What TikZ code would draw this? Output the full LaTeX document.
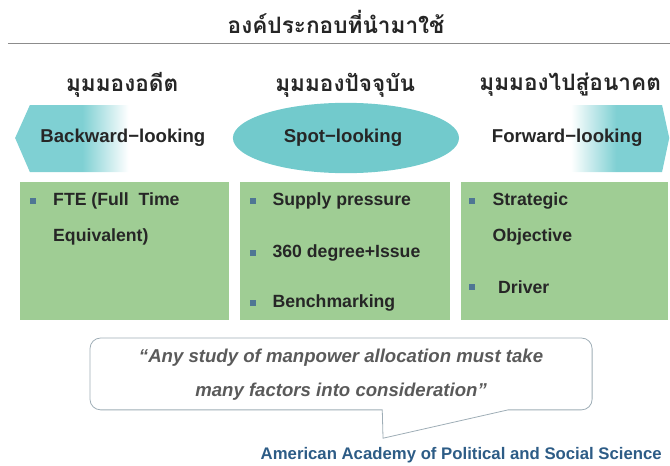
\documentclass[tikz,border=0pt]{standalone}
\usepackage{fontspec}
\setmainfont{Liberation Sans}
\newfontfamily\thaifont[Script=Thai]{Loma}
\usepackage{xcolor}
\usepackage{tikz}
\definecolor{BLTeal}{HTML}{7FD0D3}
\definecolor{BLSpot}{HTML}{72CACC}
\definecolor{BLGreen}{HTML}{9FCD94}
\definecolor{BLBullet}{HTML}{4F7694}
\definecolor{BLText}{HTML}{262626}
\definecolor{BLQuote}{HTML}{5A5A5A}
\definecolor{BLNavy}{HTML}{2D5C86}
\definecolor{BLFrame}{HTML}{9EADB6}
\definecolor{BLRule}{HTML}{8C8C8C}
\pgfdeclarehorizontalshading{BLpastfade}{100bp}{color(0bp)=(BLTeal); color(41bp)=(BLTeal); color(52bp)=(white); color(100bp)=(white)}
\pgfdeclarehorizontalshading{BLfuturefade}{100bp}{color(0bp)=(white); color(49bp)=(white); color(61bp)=(BLTeal); color(100bp)=(BLTeal)}

\begin{document}
\begin{tikzpicture}[x=1cm,y=1cm,
  viewlabel/.style={font=\fontsize{14}{16}\selectfont\bfseries,text=BLText},
  item/.style={anchor=west,font=\fontsize{13.3}{15}\selectfont\bfseries,text=BLText,inner sep=0pt},
  bulletsq/.style={fill=BLBullet,minimum size=0.16cm,inner sep=0pt},
  viewhead/.style={font=\thaifont\bfseries\fontsize{17}{19}\selectfont,text=BLText}]
\path[use as bounding box] (0,0) rectangle (17.72,12.30);
\node[font=\thaifont\bfseries\fontsize{17}{19}\selectfont,text=BLText] (title) at (8.89,11.72) {องค์ประกอบที่นำมาใช้};
\draw[BLRule,line width=0.6pt] (0.21,11.16) -- (17.72,11.16);
\node[viewhead] (pasthead) at (3.23,10.05) {มุมมองอดีต};
\node[viewhead] (nowhead) at (9.13,10.05) {มุมมองปัจจุบัน};
\node[viewhead] (futurehead) at (15.08,10.05) {มุมมองไปสู่อนาคต};
\shade[shading=BLpastfade] (0.40,8.65) -- (0.79,9.52) -- (5.95,9.52) -- (5.95,7.75) -- (0.79,7.75) -- cycle;
\fill[BLSpot] (9.15,8.65) ellipse[x radius=2.99,y radius=0.93];
\shade[shading=BLfuturefade] (12.70,9.52) -- (17.51,9.52) -- (17.70,8.65) -- (17.51,7.75) -- (12.70,7.75) -- cycle;
\node[viewlabel] (past) at (3.25,8.66) {Backward−looking};
\node[viewlabel] (spot) at (9.07,8.66) {Spot−looking};
\node[viewlabel] (future) at (15.00,8.66) {Forward−looking};
\fill[BLGreen] (0.53,3.84) rectangle (6.06,7.49);
\fill[BLGreen] (6.35,3.84) rectangle (11.90,7.49);
\fill[BLGreen] (12.20,3.84) rectangle (17.67,7.49);
\node[bulletsq] (pb1) at (0.87,6.98) {};
\node[item] (fte) at (1.40,6.98) {FTE (Full\ \ Time};
\node[item] (fte2) at (1.40,6.03) {Equivalent)};
\node[bulletsq] (nb1) at (6.69,6.98) {};
\node[item] (supply) at (7.20,6.98) {Supply pressure};
\node[bulletsq] (nb2) at (6.69,5.61) {};
\node[item] (degree) at (7.20,5.61) {360 degree+Issue};
\node[bulletsq] (nb3) at (6.69,4.29) {};
\node[item] (bench) at (7.20,4.29) {Benchmarking};
\node[bulletsq] (fb1) at (12.49,6.98) {};
\node[item] (strat) at (13.02,6.98) {Strategic};
\node[item] (strat2) at (13.02,6.03) {Objective};
\node[bulletsq] (fb2) at (12.49,4.71) {};
\node[item] (driver) at (13.17,4.71) {Driver};
\draw[BLFrame,line width=0.6pt] (10.11,1.46) -- (2.66,1.46) arc[start angle=270,end angle=180,radius=0.28]
  -- (2.38,3.08) arc[start angle=180,end angle=90,radius=0.28]
  -- (15.38,3.36) arc[start angle=90,end angle=0,radius=0.28]
  -- (15.66,1.74) arc[start angle=0,end angle=-90,radius=0.28]
  -- (13.44,1.46) -- (10.13,0.71) -- cycle;
\node[font=\fontsize{14}{25.5}\selectfont\bfseries\itshape,text=BLQuote,align=center] (quote) at (9.02,2.40) {“Any study of manpower allocation must take\\ many factors into consideration”};
\node[anchor=east,inner sep=0pt,font=\fontsize{12.6}{14}\selectfont\bfseries,text=BLNavy] (source) at (17.51,0.26) {American Academy of Political and Social Science};
\end{tikzpicture}
\end{document}
